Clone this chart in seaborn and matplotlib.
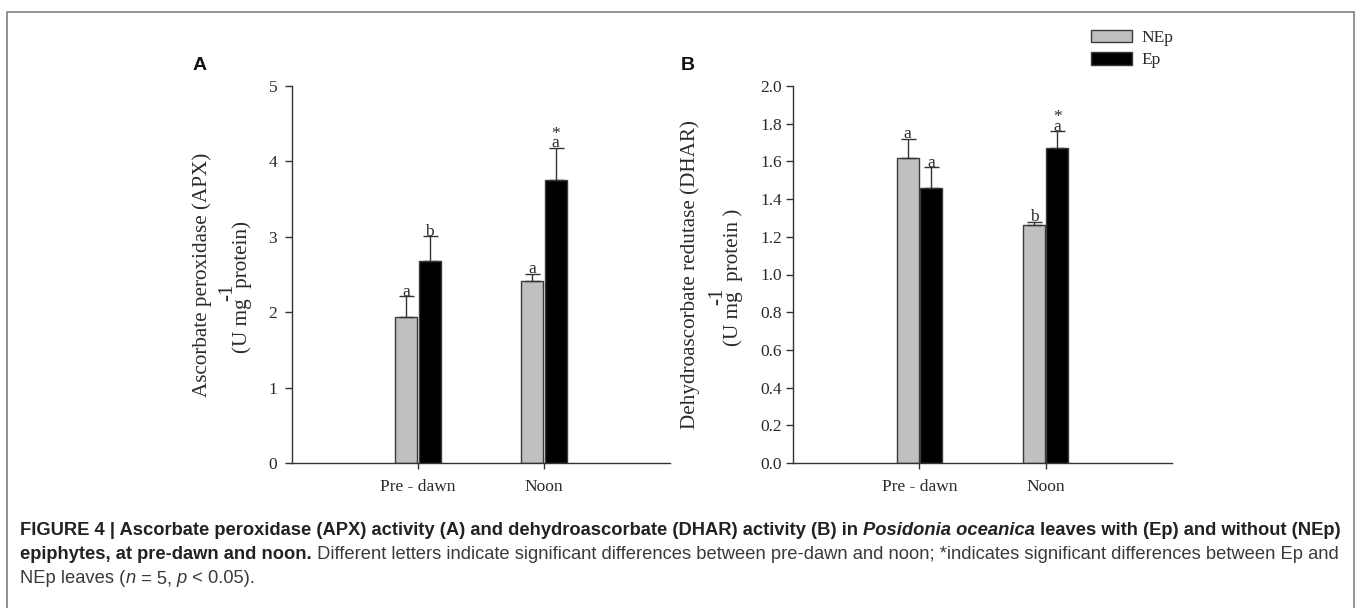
import numpy as np
import pandas as pd
import matplotlib
matplotlib.use("Agg")
import matplotlib.pyplot as plt
from matplotlib.patches import Patch, Rectangle
import seaborn as sns

# ---- data -------------------------------------------------------------
times = ["Pre - dawn", "Noon"]
groups = ["NEp", "Ep"]

apx_nep = [1.93, 2.41]
apx_nep_se = [0.28, 0.10]
apx_ep = [2.68, 3.75]
apx_ep_se = [0.33, 0.43]
apx_letters_nep = ["a", "a"]
apx_letters_ep = ["b", "a"]
apx_star_ep = [False, True]

dhar_nep = [1.62, 1.26]
dhar_nep_se = [0.10, 0.02]
dhar_ep = [1.46, 1.67]
dhar_ep_se = [0.11, 0.09]
dhar_letters_nep = ["a", "b"]
dhar_letters_ep = ["a", "a"]
dhar_star_ep = [False, True]

apx_ticks = [0, 1, 2, 3, 4, 5]
dhar_ticks = [0.0, 0.2, 0.4, 0.6, 0.8, 1.0, 1.2, 1.4, 1.6, 1.8, 2.0]

# ---- style ------------------------------------------------------------
sns.set_style("ticks")
plt.rcParams["font.family"] = ["Liberation Serif", "DejaVu Serif"]
SERIF = ["Liberation Serif", "DejaVu Serif"]
SANS = ["Liberation Sans", "DejaVu Sans"]
palette = {"NEp": "#c0c0c0", "Ep": "#000000"}
INK = "#2a2a2a"
FS = 12.5

W, H = 1360, 608
fig = plt.figure(figsize=(W / 100, H / 100), dpi=100)


def px_axes(left, top, right, bottom):
    return fig.add_axes([left / W, 1 - bottom / H, (right - left) / W, (bottom - top) / H])


def panel(ax, nep, nep_se, ep, ep_se, let_nep, let_ep, star_ep, ticks, ymax, fmt, ypad):
    df = pd.DataFrame({
        "time": times * 2,
        "group": [groups[0]] * len(times) + [groups[1]] * len(times),
        "value": list(nep) + list(ep),
    })
    sns.barplot(data=df, x="time", y="value", hue="group", order=times,
                hue_order=groups, palette=palette, width=0.37, gap=0.06,
                errorbar=None, edgecolor="#3a3a3a", linewidth=1.0,
                legend=False, ax=ax)
    ses = [nep_se, ep_se]
    lets = [let_nep, let_ep]
    stars = [[False] * len(times), star_ep]
    for cont, se, lt, st in zip(ax.containers, ses, lets, stars):
        xs = [b.get_x() + b.get_width() / 2 for b in cont]
        tops = [b.get_height() for b in cont]
        ax.errorbar(xs, tops, yerr=[np.zeros(len(se)), se], fmt="none",
                    ecolor="#333333", elinewidth=1.0, capsize=5.4, capthick=1.0,
                    zorder=3)
        for x, t, s, l, flag in zip(xs, tops, se, lt, st):
            ax.annotate(l, (x, t + s), xytext=(0, 0.3), textcoords="offset points",
                        ha="center", va="baseline", fontsize=FS, color=INK)
            if flag:
                ax.annotate("*", (x, t + s), xytext=(0, 7.2), textcoords="offset points",
                            ha="center", va="baseline", fontsize=FS, color=INK)
    ax.set_xlim(-1, 2)
    ax.set_ylim(0, ymax)
    ax.set_yticks(ticks)
    ax.set_yticklabels([fmt.format(t) for t in ticks])
    ax.set_xlabel("")
    ax.set_ylabel("")
    sns.despine(ax=ax)
    for s in ("left", "bottom"):
        ax.spines[s].set_color("#333333")
        ax.spines[s].set_linewidth(1.0)
    ax.tick_params(axis="both", direction="out", length=5.2, width=1.0,
                   color="#333333", labelsize=FS, labelcolor=INK)
    ax.tick_params(axis="x", length=4.5, pad=7)
    ax.tick_params(axis="y", pad=ypad)


axA = px_axes(292, 86, 670, 463)
panel(axA, apx_nep, apx_nep_se, apx_ep, apx_ep_se, apx_letters_nep,
      apx_letters_ep, apx_star_ep, apx_ticks, 5, "{:d}", 5.5)

axB = px_axes(793, 86, 1172, 463)
panel(axB, dhar_nep, dhar_nep_se, dhar_ep, dhar_ep_se, dhar_letters_nep,
      dhar_letters_ep, dhar_star_ep, dhar_ticks, 2.0, "{:.1f}", 2.5)


def ftext(x, y, s, **kw):
    return fig.text(x / W, 1 - y / H, s, **kw)


# y-axis titles (rotated, with the unit superscript set on its own line)
LAB = dict(rotation=90, ha="center", va="center", fontsize=15.2, color=INK, family=SERIF)
ftext(202, 274.5, "Ascorbate peroxidase (APX)", **LAB)
ftext(228, 292, "-1", **LAB)
ftext(242, 287, "(U mg  protein)", **LAB)

ftext(690, 274.5, "Dehydroascorbate redutase (DHAR)", **LAB)
ftext(718, 296, "-1", **LAB)
ftext(733, 277, "(U mg  protein )", **LAB)

# panel letters
ftext(200, 65, "A", fontsize=14, fontweight="bold", family=SANS, color="#111111",
      ha="center", va="center")
ftext(688, 65, "B", fontsize=14, fontweight="bold", family=SANS, color="#111111",
      ha="center", va="center")

# legend
handles = [Patch(facecolor=palette[g], edgecolor="#3a3a3a", linewidth=1.0, label=g)
           for g in groups]
fig.legend(handles=handles, loc="upper left", bbox_to_anchor=(1091 / W, 1 - 29.5 / H),
           frameon=False, fontsize=FS, handlelength=2.35, handleheight=0.75,
           handletextpad=0.55, labelspacing=0.35, borderpad=0, borderaxespad=0)
for t in fig.legends[0].get_texts():
    t.set_color(INK)

# frame around the figure
fig.patches.append(Rectangle((7 / W, -0.05), (1354 - 7) / W, 1 - 12 / H + 0.05,
                             transform=fig.transFigure, fill=False,
                             edgecolor="#8a8a8a", linewidth=1.3))

# caption, written run by run so bold / italic pieces follow each other
BOLD = "#222222"
REG = "#3a3a3a"
line1 = [
    ("FIGURE 4 | Ascorbate peroxidase (APX) activity (A) and dehydroascorbate (DHAR) activity (B) in ",
     "bold", "normal", BOLD),
    ("Posidonia oceanica", "bold", "italic", BOLD),
    (" leaves with (Ep) and without (NEp)", "bold", "normal", BOLD),
]
line2 = [
    ("epiphytes, at pre-dawn and noon.", "bold", "normal", BOLD),
    (" Different letters indicate significant differences between pre-dawn and noon; "
     "*indicates significant differences between Ep and", "normal", "normal", REG),
]
line3 = [
    ("NEp leaves (", "normal", "normal", REG),
    ("n", "normal", "italic", REG),
    (" = 5, ", "normal", "normal", REG),
    ("p", "normal", "italic", REG),
    (" < 0.05).", "normal", "normal", REG),
]

fig.canvas.draw()
renderer = fig.canvas.get_renderer()


def run_width(s, size, **kw):
    a = fig.text(0, 0, s + "|", fontsize=size, family=SANS, **kw)
    b = fig.text(0, 0, "|", fontsize=size, family=SANS, **kw)
    w = a.get_window_extent(renderer).width - b.get_window_extent(renderer).width
    a.remove()
    b.remove()
    return w


def line_width(runs, size):
    return sum(run_width(s, size, fontweight=wt, fontstyle=st) for s, wt, st, _ in runs)


# the first caption line runs from the left margin to the right margin
CAP = 10.0 * (1341 - 20) / line_width(line1, 10.0)


def caption_line(x, y, runs):
    for s, weight, style, color in runs:
        kw = dict(fontweight=weight, fontstyle=style)
        fig.text(x / W, 1 - y / H, s, fontsize=CAP, family=SANS, color=color,
                 ha="left", va="baseline", **kw)
        x += run_width(s, CAP, **kw)


caption_line(20, 535, line1)
caption_line(20, 559, line2)
caption_line(20, 583, line3)

fig.savefig("out.png", dpi=100)
